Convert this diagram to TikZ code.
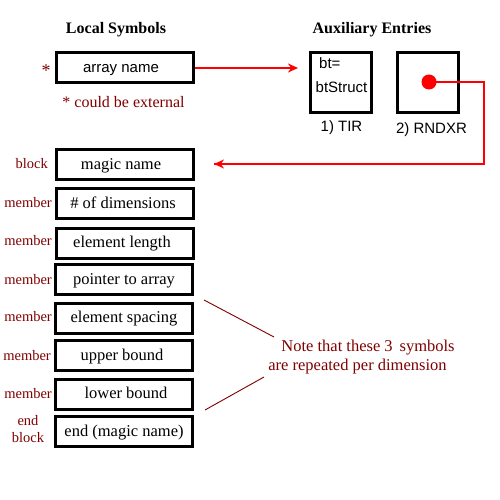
\documentclass[tikz,border=0pt]{standalone}
\usepackage{fontspec}
\setmainfont{Liberation Serif}
\setsansfont{Liberation Sans}
\usetikzlibrary{arrows.meta}
\definecolor{dred}{RGB}{128,0,0}
\begin{document}
\begin{tikzpicture}[x=1pt,y=-1pt,
  symbox/.style={draw, line width=3pt, rectangle, minimum width=137pt, minimum height=30pt, inner sep=0pt, text height=11pt, text depth=2pt, font=\fontsize{16.5}{18}\selectfont},
  auxbox/.style={draw, line width=3pt, rectangle, minimum width=61pt, minimum height=60pt, inner sep=0pt},
  lab/.style={text=dred, inner sep=0pt, font=\fontsize{14.5}{16}\selectfont},
  ttl/.style={inner sep=0pt, font=\fontsize{16}{18}\selectfont\bfseries},
  sans/.style={inner sep=0pt, font=\sffamily\fontsize{15}{17}\selectfont},
  redline/.style={draw=red, line width=2pt},
  redarrow/.style={redline, -{Stealth[length=10pt,width=9pt]}},
  noteline/.style={draw=dred, line width=0.9pt}
]
\useasboundingbox (0,0) rectangle (500,500);
\fill[white] (0,0) rectangle (500,500);

% titles
\node[ttl] (tloc) at (116,30) {Local Symbols};
\node[ttl] (taux) at (372,30) {Auxiliary Entries};

% array name
\node[symbox, font=\sffamily\fontsize{15}{17}\selectfont] (arr) at (125,68) {\hspace*{-8pt}array name};
\node[lab, font=\fontsize{18}{18}\selectfont] (star) at (46,71) {*};
\node[lab, font=\fontsize{16}{18}\selectfont] (ext) at (123.5,102) {*\hspace{4pt}could be external};

% auxiliary boxes
\node[auxbox] (tir) at (341,82.5) {};
\node[auxbox] (rnd) at (427.5,82.5) {};
\node[sans, anchor=west] (bt) at (319,63) {bt=};
\node[sans] (bts) at (341.5,87) {btStruct};
\node[sans] (tirl) at (341.5,128) {1) TIR};
\node[sans] (rndl) at (431.5,130) {2) RNDXR};
\node[circle, fill=red, minimum size=15pt, inner sep=0pt] (dot) at (429,82) {};

% symbol column
\node[symbox] (magic) at (125,164.5) {\hspace*{-8pt}magic name};
\node[symbox] (dims) at (125,203.5) {\hspace*{-4pt}\# of dimensions};
\node[symbox] (elen) at (125,243) {\hspace*{-6pt}element length};
\node[symbox] (ptr) at (124,279.5) {pointer to array};
\node[symbox] (esp) at (124,318) {element spacing};
\node[symbox] (upb) at (124,355.5) {\hspace*{-4pt}upper bound};
\node[symbox] (lowb) at (124,394) {\hspace*{4pt}lower bound};
\node[symbox] (endb) at (124,431.5) {end (magic name)};

% labels
\node[lab, anchor=east] (l1) at (48,164) {block};
\node[lab, anchor=east] (l2) at (52,203) {member};
\node[lab, anchor=east] (l3) at (52,241) {member};
\node[lab, anchor=east] (l4) at (52,280) {member};
\node[lab, anchor=east] (l5) at (52,317) {member};
\node[lab, anchor=east] (l6) at (51,356) {member};
\node[lab, anchor=east] (l7) at (52,394) {member};
\node[lab, align=center, font=\fontsize{14.5}{17}\selectfont] (l8) at (28,429) {end\\block};

% connectors
\coordinate (tirin) at ([xshift=-11pt]tir.west |- arr.east);
\draw[redarrow] (arr.east) -- (tirin);
\coordinate (c1) at (484,82);
\coordinate (c2) at (484,164);
\coordinate (magin) at (214,164);
\draw[redline] (dot.center) -- (c1) -- (c2) -- (magin);
\draw[redarrow] (c2) -- (magin);

% note
\node[text=dred, inner sep=0pt, font=\fontsize{16.5}{18}\selectfont] (n1) at (368,348) {Note that these 3\, symbols};
\node[text=dred, inner sep=0pt, font=\fontsize{16.5}{18}\selectfont] (n2) at (357.5,367) {are repeated per dimension};
\coordinate (a1) at (204,300);
\coordinate (a2) at (274,337);
\coordinate (b1) at (205,410);
\coordinate (b2) at (264,377);
\draw[noteline] (a1) -- (a2);
\draw[noteline] (b1) -- (b2);
\end{tikzpicture}
\end{document}
